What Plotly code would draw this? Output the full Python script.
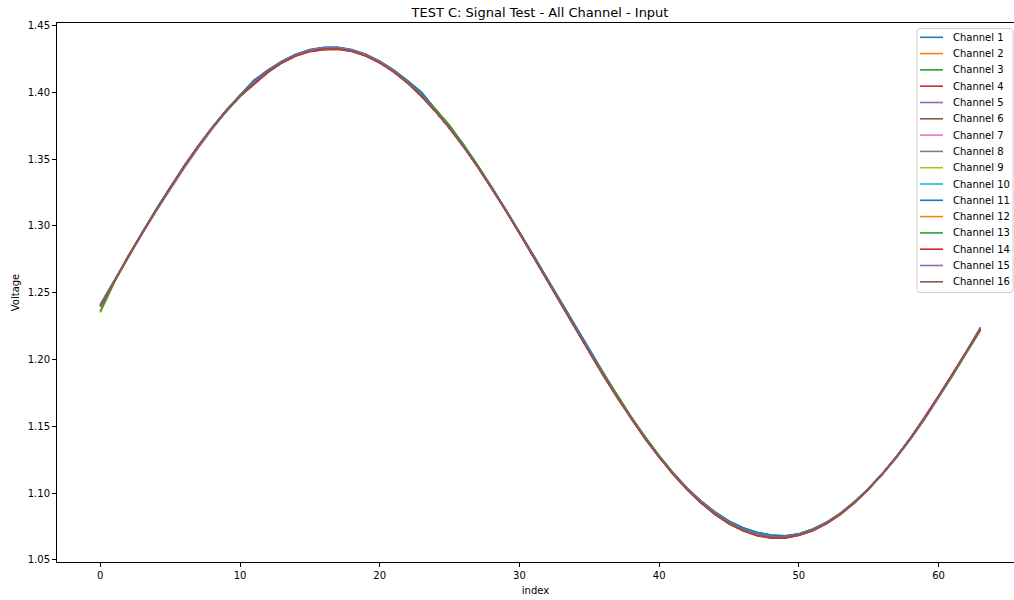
import plotly.graph_objects as go

# ---------------------------------------------------------------------------
# Measured input voltage for each of the 16 channels, 64 samples per channel
# ---------------------------------------------------------------------------
sample_index = list(range(64))

channel_names = [f"Channel {n}" for n in range(1, 17)]

ch1 = [1.2410, 1.2590, 1.2770, 1.2950, 1.3122, 1.3288, 1.3447, 1.3596, 1.3735, 1.3862, 1.3978, 1.4090, 1.4165, 1.4232, 1.4284, 1.4318,
       1.4335, 1.4336, 1.4318, 1.4284, 1.4232, 1.4165, 1.4085, 1.4000, 1.3868, 1.3738, 1.3598, 1.3448, 1.3290, 1.3125, 1.2955, 1.2780,
       1.2602, 1.2425, 1.2250, 1.2080, 1.1900, 1.1725, 1.1563, 1.1414, 1.1276, 1.1150, 1.1037, 1.0940, 1.0858, 1.0790, 1.0740, 1.0705,
       1.0685, 1.0680, 1.0694, 1.0730, 1.0782, 1.0850, 1.0934, 1.1034, 1.1147, 1.1274, 1.1412, 1.1560, 1.1718, 1.1884, 1.2055, 1.2230]
ch2 = [1.2405, 1.2588, 1.2768, 1.2946, 1.3118, 1.3284, 1.3446, 1.3596, 1.3734, 1.3860, 1.3974, 1.4072, 1.4157, 1.4226, 1.4278, 1.4313,
       1.4331, 1.4331, 1.4313, 1.4278, 1.4226, 1.4157, 1.4072, 1.3973, 1.3860, 1.3735, 1.3598, 1.3450, 1.3292, 1.3124, 1.2946, 1.2768,
       1.2590, 1.2410, 1.2230, 1.2054, 1.1883, 1.1718, 1.1560, 1.1411, 1.1272, 1.1145, 1.1032, 1.0934, 1.0850, 1.0780, 1.0727, 1.0690,
       1.0672, 1.0672, 1.0690, 1.0725, 1.0778, 1.0848, 1.0935, 1.1035, 1.1148, 1.1274, 1.1412, 1.1560, 1.1718, 1.1885, 1.2058, 1.2236]
ch3 = [1.2355, 1.2578, 1.2775, 1.2952, 1.3123, 1.3287, 1.3443, 1.3590, 1.3728, 1.3855, 1.3968, 1.4062, 1.4150, 1.4222, 1.4276, 1.4312,
       1.4330, 1.4331, 1.4314, 1.4280, 1.4229, 1.4161, 1.4078, 1.3980, 1.3872, 1.3750, 1.3608, 1.3455, 1.3292, 1.3122, 1.2946, 1.2768,
       1.2588, 1.2408, 1.2232, 1.2062, 1.1895, 1.1730, 1.1570, 1.1420, 1.1280, 1.1150, 1.1033, 1.0930, 1.0845, 1.0776, 1.0724, 1.0689,
       1.0671, 1.0671, 1.0690, 1.0727, 1.0780, 1.0850, 1.0936, 1.1035, 1.1146, 1.1270, 1.1405, 1.1553, 1.1712, 1.1878, 1.2050, 1.2218]
ch4 = [1.2400, 1.2588, 1.2770, 1.2946, 1.3118, 1.3284, 1.3448, 1.3595, 1.3732, 1.3858, 1.3972, 1.4060, 1.4150, 1.4220, 1.4272, 1.4305,
       1.4320, 1.4322, 1.4306, 1.4272, 1.4220, 1.4152, 1.4068, 1.3968, 1.3855, 1.3730, 1.3592, 1.3442, 1.3284, 1.3118, 1.2945, 1.2768,
       1.2588, 1.2408, 1.2228, 1.2052, 1.1880, 1.1714, 1.1555, 1.1406, 1.1268, 1.1140, 1.1026, 1.0926, 1.0840, 1.0770, 1.0718, 1.0682,
       1.0664, 1.0664, 1.0684, 1.0718, 1.0772, 1.0842, 1.0928, 1.1030, 1.1145, 1.1272, 1.1414, 1.1565, 1.1726, 1.1892, 1.2060, 1.2225]
ch5 = [1.2402, 1.2585, 1.2765, 1.2942, 1.3112, 1.3276, 1.3432, 1.3582, 1.3725, 1.3856, 1.3972, 1.4073, 1.4158, 1.4227, 1.4279, 1.4314,
       1.4332, 1.4332, 1.4314, 1.4279, 1.4227, 1.4158, 1.4073, 1.3974, 1.3859, 1.3732, 1.3594, 1.3445, 1.3287, 1.3121, 1.2950, 1.2775,
       1.2596, 1.2416, 1.2237, 1.2058, 1.1885, 1.1718, 1.1559, 1.1410, 1.1271, 1.1144, 1.1030, 1.0930, 1.0845, 1.0776, 1.0724, 1.0689,
       1.0671, 1.0671, 1.0689, 1.0725, 1.0777, 1.0846, 1.0930, 1.1030, 1.1142, 1.1266, 1.1405, 1.1555, 1.1716, 1.1884, 1.2058, 1.2240]
ch6 = [1.2395, 1.2585, 1.2768, 1.2945, 1.3118, 1.3285, 1.3446, 1.3594, 1.3732, 1.3858, 1.3972, 1.4068, 1.4154, 1.4223, 1.4274, 1.4308,
       1.4324, 1.4325, 1.4308, 1.4274, 1.4222, 1.4154, 1.4070, 1.3970, 1.3857, 1.3731, 1.3593, 1.3444, 1.3285, 1.3119, 1.2947, 1.2770,
       1.2590, 1.2410, 1.2231, 1.2055, 1.1883, 1.1717, 1.1558, 1.1409, 1.1270, 1.1143, 1.1029, 1.0929, 1.0843, 1.0773, 1.0720, 1.0685,
       1.0667, 1.0667, 1.0686, 1.0721, 1.0774, 1.0844, 1.0930, 1.1031, 1.1145, 1.1272, 1.1412, 1.1562, 1.1722, 1.1889, 1.2060, 1.2232]
ch7 = [1.2408, 1.2590, 1.2770, 1.2947, 1.3119, 1.3285, 1.3445, 1.3594, 1.3733, 1.3860, 1.3975, 1.4073, 1.4158, 1.4227, 1.4279, 1.4314,
       1.4332, 1.4332, 1.4314, 1.4279, 1.4227, 1.4158, 1.4073, 1.3975, 1.3861, 1.3734, 1.3595, 1.3446, 1.3287, 1.3121, 1.2949, 1.2773,
       1.2594, 1.2414, 1.2234, 1.2057, 1.1885, 1.1719, 1.1560, 1.1411, 1.1272, 1.1145, 1.1031, 1.0931, 1.0846, 1.0777, 1.0725, 1.0690,
       1.0672, 1.0672, 1.0690, 1.0725, 1.0777, 1.0846, 1.0931, 1.1031, 1.1145, 1.1272, 1.1411, 1.1560, 1.1719, 1.1885, 1.2057, 1.2232]
ch8 = [1.2412, 1.2592, 1.2771, 1.2948, 1.3120, 1.3286, 1.3445, 1.3594, 1.3733, 1.3860, 1.3975, 1.4074, 1.4159, 1.4228, 1.4280, 1.4315,
       1.4333, 1.4333, 1.4315, 1.4280, 1.4228, 1.4159, 1.4074, 1.3975, 1.3860, 1.3733, 1.3594, 1.3445, 1.3286, 1.3120, 1.2948, 1.2772,
       1.2593, 1.2413, 1.2234, 1.2058, 1.1886, 1.1720, 1.1561, 1.1412, 1.1273, 1.1146, 1.1032, 1.0932, 1.0847, 1.0778, 1.0726, 1.0691,
       1.0673, 1.0673, 1.0691, 1.0726, 1.0778, 1.0847, 1.0932, 1.1032, 1.1146, 1.1273, 1.1412, 1.1561, 1.1720, 1.1886, 1.2058, 1.2234]
ch9 = [1.2350, 1.2575, 1.2768, 1.2946, 1.3118, 1.3284, 1.3443, 1.3592, 1.3731, 1.3858, 1.3972, 1.4070, 1.4155, 1.4225, 1.4278, 1.4313,
       1.4331, 1.4332, 1.4315, 1.4281, 1.4230, 1.4162, 1.4078, 1.3978, 1.3864, 1.3738, 1.3600, 1.3450, 1.3290, 1.3122, 1.2948, 1.2770,
       1.2590, 1.2410, 1.2232, 1.2058, 1.1888, 1.1724, 1.1566, 1.1416, 1.1276, 1.1148, 1.1033, 1.0932, 1.0846, 1.0777, 1.0725, 1.0690,
       1.0672, 1.0672, 1.0691, 1.0727, 1.0780, 1.0850, 1.0935, 1.1034, 1.1146, 1.1271, 1.1408, 1.1556, 1.1714, 1.1880, 1.2052, 1.2222]
ch10 = [1.2410, 1.2591, 1.2771, 1.2948, 1.3121, 1.3287, 1.3446, 1.3595, 1.3734, 1.3861, 1.3977, 1.4078, 1.4162, 1.4230, 1.4282, 1.4316,
        1.4334, 1.4334, 1.4316, 1.4281, 1.4229, 1.4160, 1.4076, 1.3978, 1.3862, 1.3735, 1.3596, 1.3447, 1.3288, 1.3122, 1.2950, 1.2774,
        1.2595, 1.2415, 1.2237, 1.2062, 1.1890, 1.1723, 1.1563, 1.1413, 1.1274, 1.1147, 1.1033, 1.0934, 1.0850, 1.0781, 1.0730, 1.0695,
        1.0677, 1.0676, 1.0693, 1.0727, 1.0779, 1.0848, 1.0932, 1.1032, 1.1146, 1.1273, 1.1412, 1.1561, 1.1720, 1.1886, 1.2057, 1.2230]
ch11 = [1.2408, 1.2590, 1.2771, 1.2950, 1.3123, 1.3289, 1.3448, 1.3597, 1.3736, 1.3864, 1.3980, 1.4088, 1.4166, 1.4233, 1.4285, 1.4319,
        1.4336, 1.4336, 1.4319, 1.4285, 1.4233, 1.4166, 1.4086, 1.3998, 1.3870, 1.3740, 1.3600, 1.3450, 1.3292, 1.3127, 1.2957, 1.2782,
        1.2604, 1.2427, 1.2252, 1.2082, 1.1902, 1.1727, 1.1564, 1.1415, 1.1277, 1.1151, 1.1038, 1.0941, 1.0859, 1.0791, 1.0741, 1.0706,
        1.0686, 1.0681, 1.0695, 1.0731, 1.0783, 1.0851, 1.0935, 1.1035, 1.1148, 1.1275, 1.1413, 1.1561, 1.1719, 1.1885, 1.2056, 1.2228]
ch12 = [1.2406, 1.2589, 1.2769, 1.2947, 1.3119, 1.3285, 1.3446, 1.3595, 1.3733, 1.3859, 1.3973, 1.4071, 1.4156, 1.4225, 1.4277, 1.4312,
        1.4330, 1.4330, 1.4312, 1.4277, 1.4225, 1.4156, 1.4071, 1.3972, 1.3859, 1.3734, 1.3597, 1.3449, 1.3291, 1.3123, 1.2946, 1.2768,
        1.2589, 1.2409, 1.2229, 1.2053, 1.1882, 1.1717, 1.1559, 1.1410, 1.1271, 1.1144, 1.1031, 1.0933, 1.0849, 1.0779, 1.0726, 1.0689,
        1.0671, 1.0671, 1.0689, 1.0724, 1.0777, 1.0847, 1.0934, 1.1034, 1.1147, 1.1273, 1.1411, 1.1559, 1.1717, 1.1884, 1.2057, 1.2235]
ch13 = [1.2360, 1.2580, 1.2774, 1.2951, 1.3122, 1.3286, 1.3442, 1.3589, 1.3727, 1.3854, 1.3967, 1.4063, 1.4151, 1.4223, 1.4277, 1.4313,
        1.4331, 1.4332, 1.4315, 1.4281, 1.4230, 1.4162, 1.4079, 1.3981, 1.3873, 1.3751, 1.3609, 1.3456, 1.3293, 1.3123, 1.2947, 1.2769,
        1.2589, 1.2409, 1.2233, 1.2063, 1.1896, 1.1731, 1.1571, 1.1421, 1.1281, 1.1151, 1.1034, 1.0931, 1.0846, 1.0777, 1.0725, 1.0690,
        1.0672, 1.0672, 1.0691, 1.0728, 1.0781, 1.0851, 1.0937, 1.1036, 1.1147, 1.1271, 1.1406, 1.1554, 1.1713, 1.1879, 1.2051, 1.2220]
ch14 = [1.2398, 1.2587, 1.2769, 1.2945, 1.3117, 1.3283, 1.3447, 1.3594, 1.3731, 1.3857, 1.3971, 1.4058, 1.4149, 1.4219, 1.4271, 1.4304,
        1.4319, 1.4321, 1.4305, 1.4271, 1.4219, 1.4151, 1.4067, 1.3967, 1.3854, 1.3729, 1.3591, 1.3441, 1.3283, 1.3117, 1.2944, 1.2767,
        1.2587, 1.2407, 1.2227, 1.2051, 1.1879, 1.1713, 1.1554, 1.1405, 1.1267, 1.1139, 1.1025, 1.0925, 1.0839, 1.0769, 1.0717, 1.0681,
        1.0663, 1.0663, 1.0683, 1.0717, 1.0771, 1.0841, 1.0927, 1.1029, 1.1144, 1.1271, 1.1413, 1.1566, 1.1727, 1.1893, 1.2062, 1.2228]
ch15 = [1.2404, 1.2586, 1.2766, 1.2943, 1.3113, 1.3277, 1.3433, 1.3583, 1.3726, 1.3857, 1.3973, 1.4074, 1.4159, 1.4228, 1.4280, 1.4315,
        1.4333, 1.4333, 1.4315, 1.4280, 1.4228, 1.4159, 1.4074, 1.3975, 1.3860, 1.3733, 1.3595, 1.3446, 1.3288, 1.3122, 1.2951, 1.2776,
        1.2597, 1.2417, 1.2238, 1.2059, 1.1886, 1.1719, 1.1560, 1.1411, 1.1272, 1.1145, 1.1031, 1.0931, 1.0846, 1.0777, 1.0725, 1.0690,
        1.0672, 1.0672, 1.0690, 1.0726, 1.0778, 1.0847, 1.0931, 1.1031, 1.1143, 1.1267, 1.1406, 1.1556, 1.1717, 1.1885, 1.2059, 1.2242]
ch16 = [1.2396, 1.2586, 1.2769, 1.2946, 1.3119, 1.3286, 1.3447, 1.3595, 1.3733, 1.3859, 1.3973, 1.4069, 1.4155, 1.4224, 1.4275, 1.4309,
        1.4325, 1.4326, 1.4309, 1.4275, 1.4223, 1.4155, 1.4071, 1.3971, 1.3858, 1.3732, 1.3594, 1.3445, 1.3286, 1.3120, 1.2948, 1.2771,
        1.2591, 1.2411, 1.2232, 1.2056, 1.1884, 1.1718, 1.1559, 1.1410, 1.1271, 1.1144, 1.1030, 1.0930, 1.0844, 1.0774, 1.0721, 1.0686,
        1.0668, 1.0668, 1.0687, 1.0722, 1.0775, 1.0845, 1.0931, 1.1032, 1.1146, 1.1273, 1.1413, 1.1563, 1.1723, 1.1890, 1.2061, 1.2233]

channel_values = [ch1, ch2, ch3, ch4, ch5, ch6, ch7, ch8,
                  ch9, ch10, ch11, ch12, ch13, ch14, ch15, ch16]

x_ticks = [0, 10, 20, 30, 40, 50, 60]
y_ticks = [1.05, 1.10, 1.15, 1.20, 1.25, 1.30, 1.35, 1.40, 1.45]

# tab10 colour cycle, repeated for channels 11-16
palette = ["#1f77b4", "#ff7f0e", "#2ca02c", "#d62728", "#9467bd",
           "#8c564b", "#e377c2", "#7f7f7f", "#bcbd22", "#17becf"]

# ---------------------------------------------------------------------------
# Figure geometry (pixels)
# ---------------------------------------------------------------------------
W, H = 1014, 600
M_L, M_R, M_T, M_B = 57, 0, 23, 38
PLOT_W = W - M_L - M_R
PLOT_H = H - M_T - M_B
FONT = "DejaVu Sans"


def px_x(px):
    """Horizontal pixel position -> paper coordinate."""
    return (px - M_L) / PLOT_W


def px_y(py):
    """Vertical pixel position (from top) -> paper coordinate."""
    return (H - M_B - py) / PLOT_H


fig = go.Figure()

for i, (name, values) in enumerate(zip(channel_names, channel_values)):
    fig.add_trace(go.Scatter(
        x=sample_index, y=values, name=name, mode="lines",
        line=dict(color=palette[i % len(palette)], width=1.6),
        showlegend=False,
    ))

# ---------------------------------------------------------------------------
# Legend box in the upper-right corner (compact, matplotlib-like spacing)
# ---------------------------------------------------------------------------
box_l, box_r, box_t, box_b = 917, 1013, 28.5, 292.5
r = 3
x0, x1 = px_x(box_l), px_x(box_r)
y0, y1 = px_y(box_b), px_y(box_t)
rx, ry = r / PLOT_W, r / PLOT_H
box_path = (f"M {x0 + rx},{y1} L {x1 - rx},{y1} Q {x1},{y1} {x1},{y1 - ry} "
            f"L {x1},{y0 + ry} Q {x1},{y0} {x1 - rx},{y0} "
            f"L {x0 + rx},{y0} Q {x0},{y0} {x0},{y0 + ry} "
            f"L {x0},{y1 - ry} Q {x0},{y1} {x0 + rx},{y1} Z")
shapes = [dict(type="path", path=box_path, xref="paper", yref="paper",
               line=dict(color="#cccccc", width=1),
               fillcolor="rgba(255,255,255,0.8)", layer="above")]
annotations = []

row_top, row_step = 37.3, 16.3
for i, name in enumerate(channel_names):
    yy = px_y(row_top + i * row_step)
    shapes.append(dict(type="line", xref="paper", yref="paper",
                       x0=px_x(920), x1=px_x(943), y0=yy, y1=yy,
                       line=dict(color=palette[i % len(palette)], width=1.6),
                       layer="above"))
    annotations.append(dict(text=name, xref="paper", yref="paper",
                            x=px_x(951), y=yy, xanchor="left", yanchor="middle",
                            showarrow=False,
                            font=dict(family=FONT, size=10, color="#000000")))

fig.update_layout(
    width=W, height=H,
    margin=dict(l=M_L, r=M_R, t=M_T, b=M_B, pad=0),
    paper_bgcolor="white", plot_bgcolor="white",
    font=dict(family=FONT, size=10, color="#000000"),
    title=dict(text="TEST C: Signal Test - All Channel - Input",
               x=540 / W, xanchor="center", y=1 - 12 / H, yanchor="middle",
               font=dict(family=FONT, size=13, color="#000000")),
    shapes=shapes,
    annotations=annotations,
    showlegend=False,
)

fig.update_xaxes(
    range=[-3.1, 65.4],
    tickvals=x_ticks, ticktext=[str(v) for v in x_ticks],
    ticks="outside", ticklen=4, tickwidth=1, tickcolor="#000000",
    showline=True, linecolor="#000000", linewidth=1, mirror=True,
    showgrid=False, zeroline=False,
    tickfont=dict(family=FONT, size=10, color="#000000"),
    title=dict(text="index", standoff=6,
               font=dict(family=FONT, size=10, color="#000000")),
)
fig.update_yaxes(
    range=[1.0484, 1.4518],
    tickvals=y_ticks, ticktext=[f"{v:.2f}" for v in y_ticks],
    ticks="outside", ticklen=4, tickwidth=1, tickcolor="#000000",
    showline=True, linecolor="#000000", linewidth=1, mirror=False,
    showgrid=False, zeroline=False,
    tickfont=dict(family=FONT, size=10, color="#000000"),
    title=dict(text="Voltage", standoff=6,
               font=dict(family=FONT, size=10, color="#000000")),
)

fig.write_html("out.html")
